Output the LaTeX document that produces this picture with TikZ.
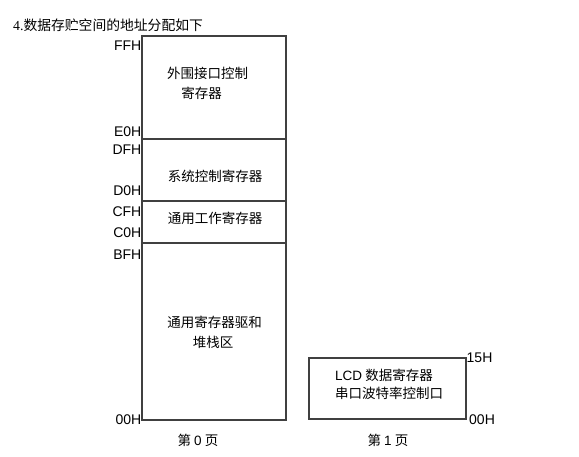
\documentclass[tikz,border=0pt]{standalone}
\usepackage{fontspec}
\setmainfont{Liberation Sans}
\newfontfamily\cjk{Noto Sans CJK SC}
\newfontfamily\serifnum{Liberation Serif}
\usetikzlibrary{positioning}

\tikzset{
  addr/.style={inner sep=0pt, font=\fontsize{14}{16}\selectfont},
  reg/.style={inner sep=0pt, font=\cjk\fontsize{13.5}{16}\selectfont},
  memline/.style={draw=black!75, line width=1.1pt}
}

\begin{document}
\begin{tikzpicture}[x=1pt, y=-1pt]
    \useasboundingbox (0,0) rectangle (579,457);
    \node[anchor=west, inner sep=0pt, font=\fontsize{13.8}{16}\selectfont] (title) at (13,25)
    {{\serifnum 4.}{\cjk 数据存贮空间的地址分配如下}};
    % page 0
    \draw[memline] (142,36) rectangle (286,420);
    \draw[memline] (142,139) -- (286,139);
    \draw[memline] (142,201) -- (286,201);
    \draw[memline] (142,243) -- (286,243);
    \node[addr, anchor=east] (FF) at (141.5,46) {FFH};
    \node[addr, anchor=east] (E0) at (141.5,132) {E0H};
    \node[addr, anchor=east] (DF) at (141.5,150) {DFH};
    \node[addr, anchor=east] (D0) at (141.5,191) {D0H};
    \node[addr, anchor=east] (CF) at (141.5,212) {CFH};
    \node[addr, anchor=east] (C0) at (141.5,233) {C0H};
    \node[addr, anchor=east] (BF) at (141.5,255) {BFH};
    \node[addr, anchor=east] (OO) at (141.5,420) {00H};
    \node[reg] (io) at (207.5,73) {外围接口控制};
    \node[reg] (io2) at (201.5,93) {寄存器};
    \node[reg] (sys) at (215,176) {系统控制寄存器};
    \node[reg] (work) at (215,218) {通用工作寄存器};
    \node[reg] (gen) at (214.5,322) {通用寄存器驱和};
    \node[reg] (stack) at (213,342) {堆栈区};
    \node[reg] (page0) at (198,440) {第 {\rmfamily 0} 页};
    % page 1
    \draw[memline] (309,358) rectangle (466,419);
    \node[addr, anchor=west] (h15) at (466.5,358) {15H};
    \node[addr, anchor=west] (h00) at (469,420) {00H};
    \node[reg] (lcd) at (384,375) {{\rmfamily LCD} 数据寄存器};
    \node[reg] (uart) at (389,393) {串口波特率控制口};
    \node[reg] (page1) at (388,440) {第 {\rmfamily 1} 页};
  \end{tikzpicture}
\end{document}
